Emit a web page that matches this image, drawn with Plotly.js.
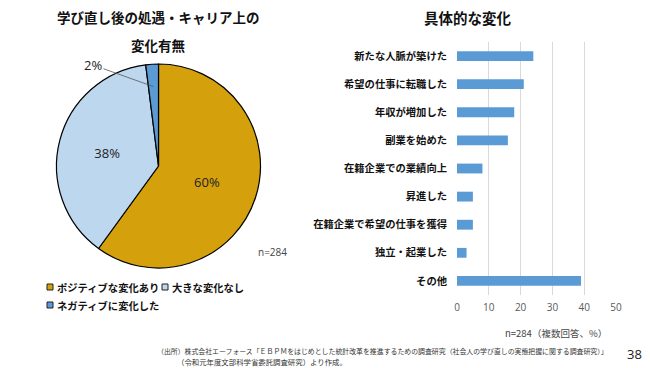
<!DOCTYPE html>
<html><head><meta charset="utf-8">
<script src="https://cdn.plot.ly/plotly-3.0.1.min.js"></script>
<style>body{margin:0;background:#fff}#c{width:650px;height:368px}</style>
</head><body><div id="c"></div>
<script>
// ---- data ----
const pieLabels = ['ポジティブな変化あり', '大きな変化なし', 'ネガティブに変化した'];
const pieValues = [60, 38, 2];
const pieColors = ['#D4A00C', '#BDD7EE', '#5B9BD5'];
const barCategories = ['新たな人脈が築けた', '希望の仕事に転職した', '年収が増加した', '副業を始めた',
  '在籍企業での業績向上', '昇進した', '在籍企業で希望の仕事を獲得', '独立・起業した', 'その他'];
const barValues = [24, 21, 18, 16, 8, 5, 5, 3, 39];
const xTicks = [0, 10, 20, 30, 40, 50];

const W = 650, H = 368;
const JP = '"Noto Sans CJK JP", "Noto Sans", sans-serif';
const px = v => v / W, py = v => 1 - v / H;

// pie geometry (pixels)
const pieL = 56.5, pieR = 260.5, pieT = 64, pieB = 268;
const pcx = (pieL + pieR) / 2, pcy = (pieT + pieB) / 2, pr = (pieR - pieL) / 2;

const total = pieValues.reduce((a, b) => a + b, 0);
const pieTrace = {
  type: 'pie', labels: pieLabels, values: pieValues, sort: false, direction: 'clockwise', rotation: 0,
  marker: {colors: pieColors, line: {color: '#000', width: 1.2}},
  texttemplate: pieValues.map((v, i) => i < 2 ? '%{percent:.0%}' : ''),
  textposition: 'inside', insidetextorientation: 'horizontal',
  textfont: {family: 'Open Sans, sans-serif', size: 13, color: '#222'},
  domain: {x: [px(pieL), px(pieR)], y: [py(pieB), py(pieT)]},
  showlegend: false, hoverinfo: 'none'
};

const barTrace = {
  type: 'bar', orientation: 'h', x: barValues, y: barCategories,
  marker: {color: '#5B9BD5'}, width: 0.35, xaxis: 'x', yaxis: 'y',
  showlegend: false, hoverinfo: 'none'
};

// annotations helper: always explicit anchors
const ann = [];
function txt(text, x, y, font, xa) {
  ann.push({text, x: px(x), y: py(y), xref: 'paper', yref: 'paper', xanchor: xa || 'center', yanchor: 'middle',
    showarrow: false, font});
}
txt('<b>学び直し後の処遇・キャリア上の</b>', 158, 17, {family: JP, size: 13.5, color: '#111'});
txt('<b>変化有無</b>', 158, 45, {family: JP, size: 13.5, color: '#111'});
txt('<b>具体的な変化</b>', 468, 17, {family: JP, size: 14.5, color: '#111'});

// 2% label with leader line into the small slice
const cum = pieValues.slice(0, 2).reduce((a, b) => a + b, 0) + pieValues[2] / 2;
const ang = cum / total * 2 * Math.PI;
const tipX = pcx + Math.sin(ang) * pr * 0.78, tipY = pcy - Math.cos(ang) * pr * 0.78;
ann.push({text: Math.round(pieValues[2] / total * 100) + '%', x: px(tipX), y: py(tipY), xref: 'paper', yref: 'paper',
  showarrow: true, arrowhead: 0, arrowwidth: 0.8, arrowcolor: '#555', ax: 93 - tipX, ay: 65 - tipY, standoff: 0,
  xanchor: 'center', yanchor: 'middle',
  font: {family: 'Open Sans, sans-serif', size: 13, color: '#222'}});

txt('n=' + 284, 272, 252, {family: 'Open Sans, sans-serif', size: 10, color: '#444'});
txt('n=284（複数回答、%）', 556, 333, {family: JP, size: 9.5, color: '#444'});
txt('（出所）株式会社エーフォース「ＥＢＰＭをはじめとした統計改革を推進するための調査研究（社会人の学び直しの実態把握に関する調査研究）」',
  155, 351, {family: JP, size: 6.9, color: '#333'}, 'left');
txt('（令和元年度文部科学省委託調査研究）より作成。', 175, 361, {family: JP, size: 7.4, color: '#333'}, 'left');
txt('38', 634, 354, {family: 'Open Sans, sans-serif', size: 13, color: '#222'});

// custom legend
const shapes = [];
const legendItems = [[0, 47, 287], [1, 162, 287], [2, 47, 305]];
legendItems.forEach(([i, lx, ly]) => {
  shapes.push({type: 'rect', xref: 'paper', yref: 'paper', x0: px(lx), x1: px(lx + 6), y0: py(ly + 3), y1: py(ly - 3),
    fillcolor: pieColors[i], line: {color: '#222', width: 1}});
  txt('<b>' + pieLabels[i] + '</b>', lx + 8, ly, {family: JP, size: 10.3, color: '#111'}, 'left');
});

const layout = {
  width: W, height: H, margin: {l: 0, r: 0, t: 0, b: 0}, paper_bgcolor: '#fff', plot_bgcolor: '#fff',
  xaxis: {domain: [px(457), px(616)], range: [0, 50], tickvals: xTicks, showgrid: true, gridcolor: '#D9D9D9',
    zeroline: false, showline: false, ticks: '', ticklabelstandoff: 5,
    tickfont: {family: 'Open Sans, sans-serif', size: 10, color: '#595959'}},
  yaxis: {domain: [py(295), py(42)], autorange: 'reversed', showgrid: false, zeroline: false, showline: false,
    ticks: '', ticklabelstandoff: 9, tickfont: {family: JP, size: 10.3, color: '#111', weight: 'bold'}},
  annotations: ann, shapes: shapes
};
Plotly.newPlot('c', [pieTrace, barTrace], layout, {staticPlot: true});
</script></body></html>
